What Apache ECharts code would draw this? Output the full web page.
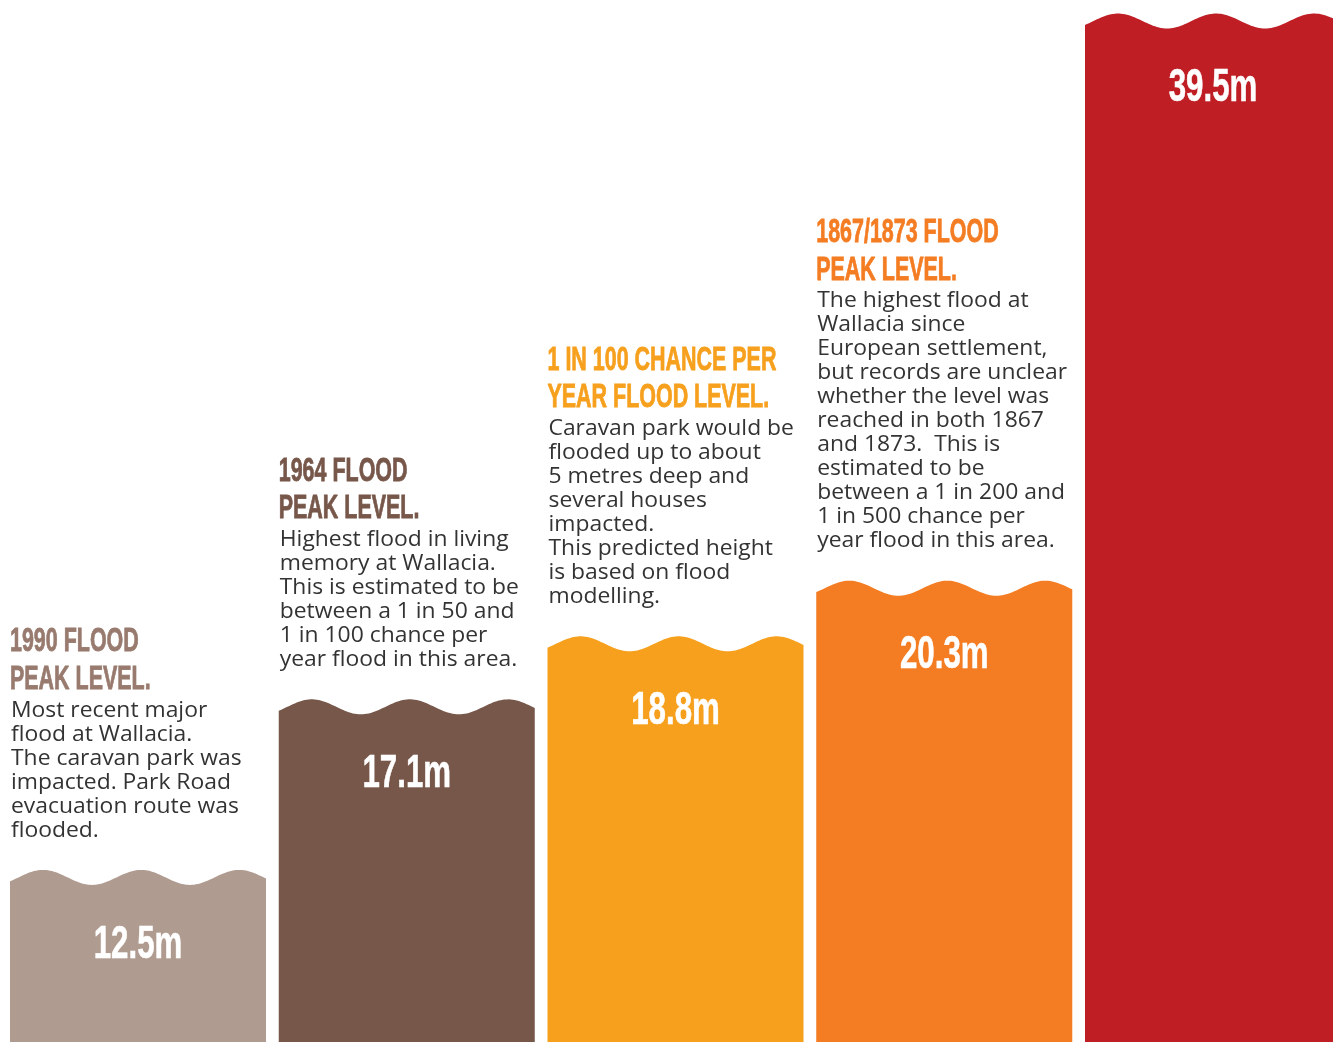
<!DOCTYPE html>
<html>
<head>
<meta charset="utf-8">
<script src="https://cdn.jsdelivr.net/npm/echarts@6/dist/echarts.min.js"></script>
<style>html,body{margin:0;padding:0;background:#fff;}#chart{width:1333px;height:1042px;}</style>
</head>
<body>
<div id="chart"></div>
<script>
// ---- data ----
const categories = ['1990 flood', '1964 flood', '1 in 100 flood', '1867/1873 flood', 'Extreme flood'];
const floodLevels = [12.5, 17.1, 18.8, 20.3, 39.5];
const headingLines = [
  ['1990 FLOOD', 'PEAK LEVEL.'],
  ['1964 FLOOD', 'PEAK LEVEL.'],
  ['1 IN 100 CHANCE PER', 'YEAR FLOOD LEVEL.'],
  ['1867/1873 FLOOD', 'PEAK LEVEL.'],
  []
];
const descriptions = [
  ['Most recent major', 'flood at Wallacia.', 'The caravan park was', 'impacted. Park Road', 'evacuation route was', 'flooded.'],
  ['Highest flood in living', 'memory at Wallacia.', 'This is estimated to be', 'between a 1 in 50 and', '1 in 100 chance per', 'year flood in this area.'],
  ['Caravan park would be', 'flooded up to about', '5 metres deep and', 'several houses', 'impacted.', 'This predicted height', 'is based on flood', 'modelling.'],
  ['The highest flood at', 'Wallacia since', 'European settlement,', 'but records are unclear', 'whether the level was', 'reached in both 1867', 'and 1873.  This is', 'estimated to be', 'between a 1 in 200 and', '1 in 500 chance per', 'year flood in this area.'],
  []
];
const barColors = ['#b09b90', '#77574a', '#f6a01d', '#f47c22', '#be1e24'];
const headingColors = ['#987a6e', '#77574a', '#f6a01d', '#f47c22', '#be1e24'];
const yMin = 8.06, yMax = 35.6;
const xMin = -0.5135, xMax = 4.4465;

// ---- chart ----
const chart = echarts.init(document.getElementById('chart'), null, {renderer: 'canvas'});

function renderItem(params, api) {
  const i = api.value(0);
  const level = api.value(1);
  const top = api.coord([i, Math.min(level, yMax)]);
  const bottom = api.coord([i, yMin]);
  const W = api.size([1, 0])[0] * 0.9526;
  const left = top[0] - W / 2;
  const mid = top[1];
  const amp = 7.5, period = W * 0.383, phase = W * 0.129;
  const wave = dx => mid - amp * Math.cos(2 * Math.PI * (dx - phase) / period);
  const pts = [];
  for (let dx = 0; dx < W; dx += 2) pts.push([left + dx, wave(dx)]);
  pts.push([left + W, wave(W)]);
  pts.push([left + W, bottom[1] + 2]);
  pts.push([left, bottom[1] + 2]);
  const crest = mid - amp;
  const children = [{
    type: 'polygon', shape: {points: pts}, style: {fill: barColors[i]}
  }, {
    type: 'text', x: top[0], y: crest + 75, scaleX: 0.68,
    style: {text: level.toFixed(1) + 'm', fill: '#ffffff', stroke: '#ffffff', lineWidth: 0.6,
      fontFamily: 'Liberation Sans', fontWeight: 'bold', fontSize: 46,
      align: 'center', verticalAlign: 'middle', textAlign: 'center', textVerticalAlign: 'middle'}
  }];
  const lines = descriptions[i];
  if (lines.length) {
    const last = crest - 39.5;
    const first = last - (lines.length - 1) * 24;
    children.push({
      type: 'text', x: left + 1, y: (first + last) / 2, scaleX: 1.04,
      style: {text: lines.join('\n'), fill: '#333333', fontFamily: 'Open Sans', fontSize: 22, lineHeight: 24,
        align: 'left', verticalAlign: 'middle', textAlign: 'left', textVerticalAlign: 'middle'}
    });
    const h2 = first - 30.5, h1 = h2 - 37.5;
    children.push({
      type: 'text', x: left, y: (h1 + h2) / 2, scaleX: 0.65,
      style: {text: headingLines[i].join('\n'), fill: headingColors[i], stroke: headingColors[i], lineWidth: 0.8,
        fontFamily: 'Liberation Sans', fontWeight: 'bold', fontSize: 33, lineHeight: 37.5,
        align: 'left', verticalAlign: 'middle', textAlign: 'left', textVerticalAlign: 'middle'}
    });
  }
  return {type: 'group', children};
}

chart.setOption({
  animation: false,
  backgroundColor: '#ffffff',
  grid: {left: 0, right: 0, top: 21, bottom: 0},
  xAxis: {type: 'value', min: xMin, max: xMax, show: false},
  yAxis: {type: 'value', min: yMin, max: yMax, show: false},
  series: [{
    type: 'custom',
    clip: false,
    renderItem: renderItem,
    data: floodLevels.map((v, i) => ({name: categories[i], value: [i, v]}))
  }]
});
</script>
</body>
</html>
